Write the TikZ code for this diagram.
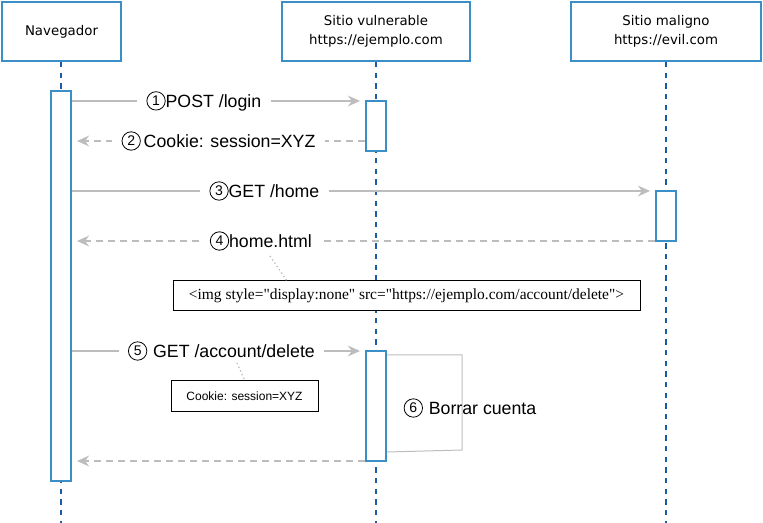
\documentclass[tikz,border=0pt]{standalone}
\usepackage{fontspec}
\setmainfont{Liberation Sans}
\newfontfamily\boxfont{DejaVu Sans}
\newfontfamily\notefont{Liberation Serif}
\usetikzlibrary{arrows.meta}
\definecolor{boxblue}{HTML}{3C8FC6}
\definecolor{lifeblue}{HTML}{1A5CA8}
\definecolor{msggray}{HTML}{BDBDBD}
\newcommand{\cnum}[1]{\tikz[baseline={([yshift=-4.6pt]cn.center)}]
  \node[draw, circle, line width=0.6pt, inner sep=0pt, minimum size=13.8pt,
    font=\fontsize{10.5}{10.5}\selectfont] (cn) {\raisebox{-0.8pt}{#1}};}
\tikzset{
  actor/.style={draw=boxblue, line width=1.5pt, fill=white, align=center,
    font=\boxfont\fontsize{10}{14.25}\selectfont, inner sep=0pt},
  act/.style={draw=boxblue, line width=1.5pt, fill=white, minimum width=15pt, inner sep=0pt},
  life/.style={draw=lifeblue, line width=1.5pt, dash pattern=on 4pt off 4pt},
  msg/.style={draw=msggray, line width=1.5pt, -{Stealth[length=9pt,width=8pt]}, shorten >=3.75pt},
  reply/.style={msg, dash pattern=on 5pt off 4pt},
  lbl/.style={fill=white, inner xsep=7pt, inner ysep=2pt, font=\fontsize{13.3}{15}\selectfont},
  note/.style={draw=black, line width=0.75pt, fill=white, inner sep=0pt, minimum height=22.5pt},
  notelink/.style={draw=msggray, line width=1pt, dotted}
}
\begin{document}
\begin{tikzpicture}[x=0.75pt, y=-0.75pt]
  \useasboundingbox (0,0) rectangle (763,523);

  % Participants
  \node[actor, minimum width=89.25pt, minimum height=44.25pt] (nav) at (61.5,31.5) {Navegador};
  \node[actor, minimum width=141pt, minimum height=44.25pt] (vuln) at (376,31.5) {Sitio vulnerable\\https://ejemplo.com};
  \node[actor, minimum width=142.5pt, minimum height=44.25pt] (evil) at (666,31.5) {Sitio maligno\\https://evil.com};

  % Lifelines
  \coordinate (navend) at (61,523);
  \coordinate (vulnend) at (376,523);
  \coordinate (evilend) at (666,523);
  \draw[life] (nav.south -| navend) -- (navend);
  \draw[life] (vuln.south) -- (vulnend);
  \draw[life] (evil.south) -- (evilend);

  % Activations
  \node[act, minimum height=292.5pt] (navact) at (61,286) {};
  \node[act, minimum height=37.5pt] (vact1) at (376,126) {};
  \node[act, minimum height=37.5pt] (evilact) at (666,216) {};
  \node[act, minimum height=82.5pt] (vact2) at (376,406) {};

  % Message rows
  \coordinate (r1) at (0,101);
  \coordinate (r2) at (0,141);
  \coordinate (r3) at (0,191);
  \coordinate (r4) at (0,241);
  \coordinate (r5) at (0,351);
  \coordinate (r7) at (0,461);

  % Notes
  \node[note, minimum width=350.25pt, font=\notefont\fontsize{11.6}{13}\selectfont] (imgnote) at (406.5,296)
    {<img style="display:none" src="https://ejemplo.com/account/delete">};
  \node[note, minimum width=110.25pt, font=\fontsize{9}{11}\selectfont] (cookienote) at (244.5,396)
    {Cookie: session=XYZ};
  \coordinate (n4) at (270,256);
  \coordinate (n4b) at (287,281);
  \coordinate (n5) at (237,363);
  \coordinate (n5b) at (245,381);
  \draw[notelink] (n4) -- (n4b);
  \draw[notelink] (n5) -- (n5b);

  % Messages
  \draw[msg] (navact.east |- r1) -- (vact1.west |- r1)
    node[lbl, pos=.45] (l1) {\cnum{1}POST /login};
  \draw[reply] (vact1.west |- r2) -- (navact.east |- r2)
    node[lbl, pos=.5] (l2) {\cnum{2}\,Cookie: session=XYZ};
  \draw[msg] (navact.east |- r3) -- (evilact.west |- r3)
    node[lbl, pos=.33] (l3) {\cnum{3}GET /home};
  \draw[reply] (evilact.west |- r4) -- (navact.east |- r4)
    node[lbl, pos=.676] (l4) {\cnum{4}home.html};
  \draw[msg] (navact.east |- r5) -- (vact2.west |- r5)
    node[lbl, pos=.51] (l5) {\cnum{5}\,\,GET /account/delete};

  % Self call
  \draw[msggray, line width=0.75pt] ([yshift=-3.75pt]vact2.north east) -- ++(75,0) -- ++(0,95)
    -- ([yshift=7.5pt]vact2.south east);
  \node[font=\fontsize{13.3}{15}\selectfont] (l6) at (470,408) {\cnum{6}\,\,Borrar cuenta};

  \draw[reply] (vact2.west |- r7) -- (navact.east |- r7);
\end{tikzpicture}
\end{document}
